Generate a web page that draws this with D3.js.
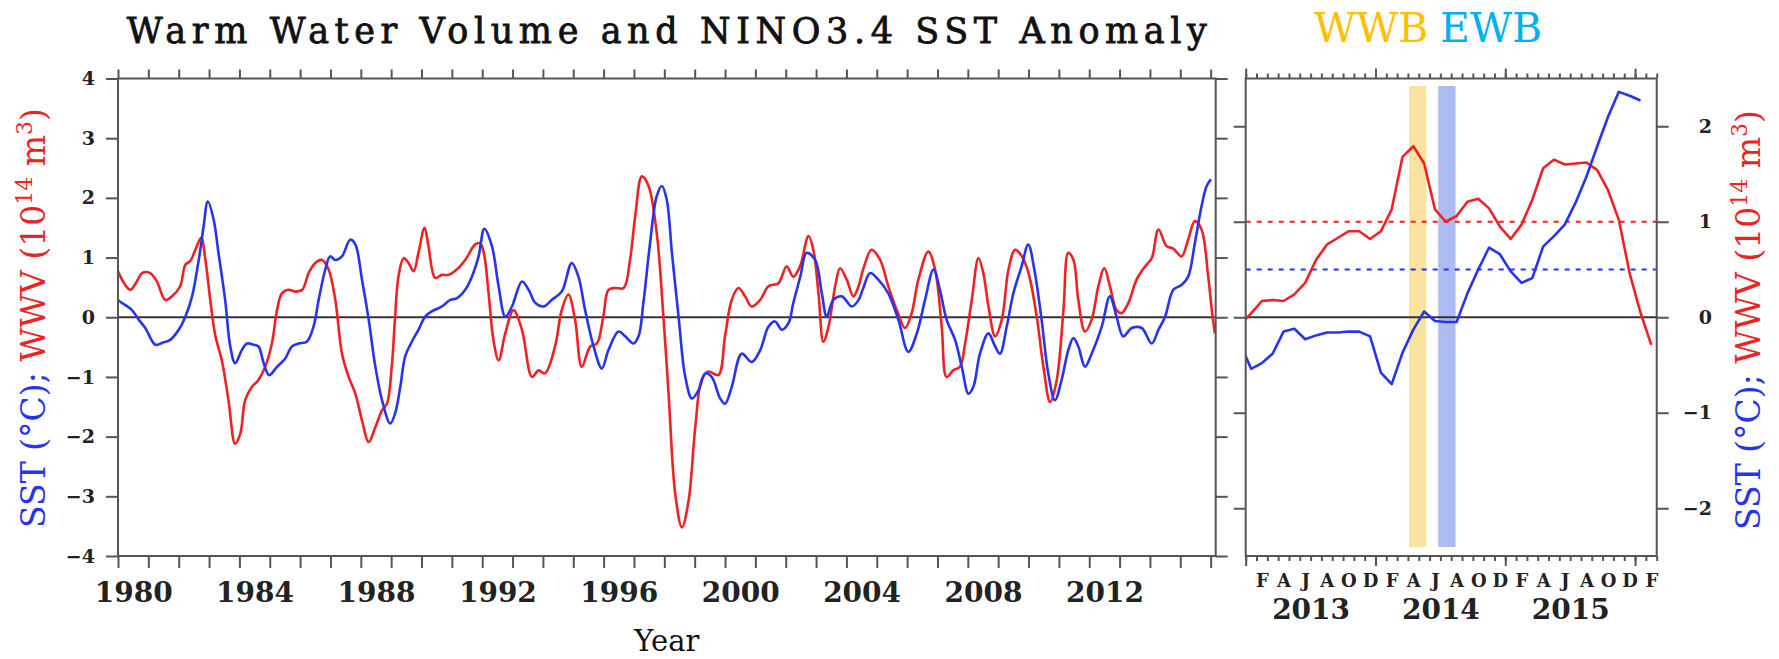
<!DOCTYPE html>
<html>
<head>
<meta charset="utf-8">
<title>Warm Water Volume and NINO3.4 SST Anomaly</title>
<script src="https://cdn.jsdelivr.net/npm/d3@7"></script>
<style>
  body { margin: 0; background: #fff; }
  svg text { font-family: "DejaVu Serif", serif; }
</style>
</head>
<body>
<svg id="chart" width="1779" height="659"></svg>
<script>
// ---------------- data ----------------
// long record, [decimal year, anomaly]
const sstLong = [
  [1980.00,0.29],[1980.13,0.24],[1980.46,0.12],[1980.68,-0.04],[1980.90,-0.18],[1981.23,-0.46],
  [1981.45,-0.43],[1981.72,-0.38],[1982.00,-0.21],[1982.22,0.01],[1982.44,0.35],[1982.66,0.96],
  [1982.82,1.52],[1982.96,1.94],[1983.15,1.64],[1983.31,1.08],[1983.53,0.29],[1983.70,-0.49],
  [1983.86,-0.77],[1984.08,-0.55],[1984.25,-0.44],[1984.47,-0.46],[1984.63,-0.49],[1984.80,-0.77],
  [1984.98,-0.97],[1985.24,-0.83],[1985.51,-0.69],[1985.73,-0.49],[1985.95,-0.44],[1986.22,-0.41],
  [1986.44,-0.16],[1986.61,0.29],[1986.83,0.80],[1986.99,1.02],[1987.16,0.96],[1987.38,1.02],
  [1987.65,1.30],[1987.82,1.22],[1988.04,0.63],[1988.26,-0.04],[1988.48,-0.83],[1988.70,-1.39],
  [1988.97,-1.78],[1989.13,-1.61],[1989.30,-1.17],[1989.46,-0.66],[1989.68,-0.41],[1989.90,-0.21],
  [1990.12,0.01],[1990.34,0.10],[1990.67,0.18],[1990.95,0.29],[1991.17,0.32],[1991.44,0.46],
  [1991.66,0.68],[1991.88,1.02],[1992.07,1.48],[1992.32,1.19],[1992.54,0.52],[1992.76,0.01],
  [1992.98,0.18],[1993.31,0.60],[1993.53,0.46],[1993.75,0.24],[1994.02,0.18],[1994.29,0.29],
  [1994.62,0.43],[1994.95,0.91],[1995.17,0.68],[1995.39,0.12],[1995.67,-0.49],[1995.94,-0.86],
  [1996.16,-0.55],[1996.49,-0.24],[1996.71,-0.32],[1996.98,-0.44],[1997.15,-0.32],[1997.31,0.24],
  [1997.53,1.24],[1997.75,2.03],[1997.92,2.20],[1998.08,1.97],[1998.25,1.08],[1998.47,0.01],
  [1998.69,-1.00],[1998.91,-1.36],[1999.13,-1.22],[1999.35,-0.94],[1999.56,-1.00],[1999.84,-1.36],
  [2000.00,-1.45],[2000.22,-1.17],[2000.55,-0.61],[2000.88,-0.75],[2001.16,-0.55],[2001.43,-0.16],
  [2001.65,-0.07],[2001.87,-0.21],[2002.09,-0.10],[2002.25,0.24],[2002.48,0.68],[2002.69,1.08],
  [2002.97,0.96],[2003.19,0.40],[2003.35,0.01],[2003.57,0.29],[2003.85,0.35],[2004.18,0.18],
  [2004.40,0.29],[2004.55,0.48],[2004.78,0.74],[2005.05,0.63],[2005.38,0.40],[2005.71,-0.04],
  [2006.04,-0.58],[2006.32,-0.27],[2006.59,0.29],[2006.87,0.80],[2007.08,0.46],[2007.30,-0.04],
  [2007.58,-0.38],[2007.80,-0.83],[2008.02,-1.28],[2008.18,-1.17],[2008.40,-0.61],[2008.68,-0.27],
  [2008.90,-0.49],[2009.06,-0.61],[2009.28,-0.16],[2009.50,0.40],[2009.77,0.85],[2009.99,1.22],
  [2010.21,0.74],[2010.43,-0.04],[2010.65,-0.94],[2010.87,-1.39],[2011.09,-1.05],[2011.31,-0.55],
  [2011.48,-0.35],[2011.64,-0.49],[2011.86,-0.83],[2012.08,-0.61],[2012.41,-0.16],[2012.68,0.35],
  [2012.90,0.01],[2013.12,-0.32],[2013.40,-0.18],[2013.73,-0.18],[2014.06,-0.44],[2014.28,-0.21],
  [2014.50,0.01],[2014.77,0.46],[2015.04,0.54],[2015.26,0.68],[2015.48,1.24],[2015.70,1.86],
  [2015.87,2.20],[2016.01,2.31]
];
const wwvLong = [
  [1980.00,0.77],[1980.24,0.54],[1980.41,0.46],[1980.62,0.60],[1980.79,0.74],[1981.06,0.74],
  [1981.28,0.60],[1981.56,0.29],[1981.78,0.35],[1982.05,0.52],[1982.22,0.88],[1982.38,0.94],
  [1982.55,1.13],[1982.74,1.33],[1982.88,0.96],[1983.04,0.29],[1983.21,-0.32],[1983.42,-0.72],
  [1983.64,-1.39],[1983.86,-2.12],[1984.03,-1.95],[1984.19,-1.39],[1984.41,-1.17],[1984.63,-1.05],
  [1984.85,-0.83],[1985.07,-0.44],[1985.24,0.12],[1985.40,0.40],[1985.62,0.46],[1985.84,0.43],
  [1986.07,0.46],[1986.28,0.74],[1986.50,0.91],[1986.72,0.96],[1986.94,0.80],[1987.16,0.29],
  [1987.38,-0.61],[1987.60,-1.00],[1987.82,-1.28],[1988.04,-1.73],[1988.26,-2.09],[1988.48,-1.84],
  [1988.70,-1.56],[1988.86,-1.45],[1989.02,-0.83],[1989.13,0.01],[1989.24,0.68],[1989.41,0.99],
  [1989.57,0.91],[1989.74,0.77],[1989.90,1.08],[1990.10,1.50],[1990.23,1.19],[1990.45,0.66],
  [1990.67,0.71],[1990.89,0.71],[1991.16,0.80],[1991.44,0.96],[1991.77,1.22],[1991.93,1.24],
  [1992.06,1.06],[1992.21,0.40],[1992.37,-0.38],[1992.54,-0.72],[1992.76,-0.27],[1993.03,0.12],
  [1993.31,-0.21],[1993.64,-1.00],[1993.86,-0.89],[1994.07,-0.94],[1994.40,-0.49],[1994.62,0.12],
  [1994.84,0.38],[1995.06,-0.04],[1995.28,-0.83],[1995.56,-0.49],[1995.78,-0.44],[1995.99,0.01],
  [1996.16,0.46],[1996.38,0.49],[1996.66,0.49],[1996.87,0.96],[1997.04,1.69],[1997.26,2.36],
  [1997.48,2.20],[1997.75,1.41],[1997.97,0.01],[1998.14,-1.28],[1998.36,-2.96],[1998.58,-3.52],
  [1998.80,-3.07],[1999.02,-1.84],[1999.23,-1.05],[1999.45,-0.91],[1999.78,-0.97],[2000.00,-0.32],
  [2000.22,0.29],[2000.44,0.49],[2000.66,0.35],[2000.88,0.18],[2001.16,0.29],[2001.43,0.52],
  [2001.76,0.57],[2002.03,0.85],[2002.25,0.68],[2002.47,0.85],[2002.75,1.36],[2002.91,1.13],
  [2003.08,0.40],[2003.24,-0.41],[2003.41,-0.16],[2003.63,0.52],[2003.79,0.82],[2004.01,0.63],
  [2004.23,0.35],[2004.40,0.52],[2004.55,0.80],[2004.83,1.13],[2005.11,0.96],[2005.38,0.52],
  [2005.66,0.12],[2005.93,-0.18],[2006.15,0.07],[2006.37,0.63],[2006.70,1.10],[2006.92,0.80],
  [2007.14,-0.16],[2007.30,-1.00],[2007.52,-0.89],[2007.74,-0.83],[2007.91,-0.44],[2008.13,0.29],
  [2008.35,0.99],[2008.51,0.74],[2008.68,0.18],[2008.90,-0.32],[2009.12,-0.04],[2009.34,0.80],
  [2009.56,1.13],[2009.78,1.02],[2010.00,0.74],[2010.27,0.01],[2010.49,-0.83],[2010.71,-1.42],
  [2010.93,-1.05],[2011.15,0.12],[2011.31,1.08],[2011.48,0.96],[2011.64,0.29],[2011.86,-0.24],
  [2012.08,-0.04],[2012.30,0.52],[2012.50,0.82],[2012.68,0.52],[2012.90,0.12],[2013.07,0.07],
  [2013.29,0.24],[2013.56,0.63],[2013.84,0.85],[2014.06,0.99],[2014.28,1.47],[2014.55,1.19],
  [2014.77,1.15],[2015.04,1.02],[2015.26,1.30],[2015.48,1.61],[2015.70,1.47],[2015.92,0.68],
  [2016.05,0.07],[2016.14,-0.27]
];

// zoomed record, monthly means, first value is Dec 2012
const sstMonthly = [-0.28,
  -0.54,-0.48,-0.38,-0.15,-0.12,-0.23,-0.19,-0.16,-0.16,-0.15,-0.15,-0.20,   // 2013
  -0.58,-0.70,-0.37,-0.13,0.06,-0.04,-0.05,-0.05,0.25,0.50,0.73,0.66,        // 2014
  0.48,0.36,0.41,0.74,0.85,0.97,1.20,1.47,1.79,2.10,2.36,2.32,               // 2015
  2.27];                                                                    // Jan 2016
const wwvMonthly = [-0.08,
  0.04,0.17,0.18,0.17,0.24,0.36,0.60,0.76,0.83,0.90,0.90,0.82,               // 2013
  0.90,1.13,1.68,1.79,1.61,1.13,1.00,1.06,1.21,1.24,1.14,0.95,               // 2014
  0.82,0.97,1.23,1.56,1.65,1.60,1.61,1.62,1.54,1.33,1.02,0.46,               // 2015
  0.05,-0.29];                                                              // Jan-Feb 2016

const yearLabels = [1980, 1984, 1988, 1992, 1996, 2000, 2004, 2008, 2012];
const zoomYears = [2013, 2014, 2015];
const monthLetters = ["J","F","M","A","M","J","J","A","S","O","N","D"];
const wwvRef = 1.0;   // red dotted line
const sstRef = 0.5;   // blue dotted line
// wind bursts, in months after 1 Jan 2013
const bursts = [
  {name: "WWB", from: 15.1, to: 16.7},
  {name: "EWB", from: 17.8, to: 19.4}
];

// ---------------- layout ----------------
const RED = "#ee2222", BLUE = "#2634ee", AXIS = "#555";
const L = {x0: 118, x1: 1215.7, y0: 78.5, y1: 556};
const R = {x0: 1245.7, x1: 1656.7};

const svg = d3.select("#chart");

const xL = d3.scaleLinear().domain([1980, 2016 + 2/12]).range([L.x0, L.x1]);
const yL = d3.scaleLinear().domain([-4, 4]).range([L.y1, L.y0]);
const xR = d3.scaleLinear().domain([0, 38]).range([R.x0, R.x1]);
const yR = d3.scaleLinear().domain([-2.5, 2.5]).range([L.y1, L.y0]);

function styleAxis(g, size) {
  g.attr("font-family", "DejaVu Serif").attr("font-size", size || 19).attr("font-weight", "bold");
  g.select(".domain").remove();
  g.selectAll("line").attr("stroke", AXIS).attr("stroke-width", 2);
  g.selectAll("text").attr("fill", "#222");
}

// clip paths
const defs = svg.append("defs");
defs.append("clipPath").attr("id", "clipL").append("rect")
  .attr("x", L.x0).attr("y", L.y0).attr("width", L.x1 - L.x0).attr("height", L.y1 - L.y0);
defs.append("clipPath").attr("id", "clipR").append("rect")
  .attr("x", R.x0).attr("y", L.y0).attr("width", R.x1 - R.x0).attr("height", L.y1 - L.y0);

// ---------------- left panel ----------------
svg.append("g").attr("transform", `translate(${L.x0},0)`)
  .call(d3.axisLeft(yL).tickValues(d3.range(-4, 5)).tickSize(12).tickPadding(11).tickFormat(d3.format("d")))
  .call(styleAxis);
svg.append("g").attr("transform", `translate(${L.x1},0)`)
  .call(d3.axisRight(yL).tickValues(d3.range(-4, 5)).tickSize(12).tickFormat(""))
  .call(styleAxis);
svg.append("g").attr("transform", `translate(0,${L.y0})`)
  .call(d3.axisTop(xL).tickValues(d3.range(1980, 2017)).tickSize(9).tickFormat(""))
  .call(styleAxis);
svg.append("g").attr("transform", `translate(0,${L.y1})`)
  .call(d3.axisBottom(xL).tickValues(d3.range(1980, 2017)).tickSize(12).tickFormat(""))
  .call(styleAxis);
svg.append("g").attr("transform", `translate(0,${L.y1})`)
  .call(d3.axisBottom(xL).tickValues(yearLabels.map(d => d + 0.5)).tickSize(0).tickPadding(26)
    .tickFormat(d => Math.floor(d)))
  .call(g => styleAxis(g, 28));

svg.append("line")
  .attr("x1", L.x0).attr("x2", L.x1).attr("y1", yL(0)).attr("y2", yL(0))
  .attr("stroke", "#333").attr("stroke-width", 2);

const lineL = d3.line().x(d => xL(d[0])).y(d => yL(d[1])).curve(d3.curveCatmullRom.alpha(0.5));
const plotL = svg.append("g").attr("clip-path", "url(#clipL)");
plotL.append("path").datum(wwvLong).attr("d", lineL)
  .attr("fill", "none").attr("stroke", RED).attr("stroke-width", 2.6);
plotL.append("path").datum(sstLong).attr("d", lineL)
  .attr("fill", "none").attr("stroke", BLUE).attr("stroke-width", 2.6);

svg.append("rect")
  .attr("x", L.x0).attr("y", L.y0).attr("width", L.x1 - L.x0).attr("height", L.y1 - L.y0)
  .attr("fill", "none").attr("stroke", AXIS).attr("stroke-width", 2);

// ---------------- right panel ----------------
const monthTicks = d3.range(0, 39);
const yearTicks = [0, 12, 24, 36];
svg.append("g").attr("transform", `translate(${R.x0},0)`)
  .call(d3.axisLeft(yR).tickValues([-2, -1, 0, 1, 2]).tickSize(12).tickFormat(""))
  .call(styleAxis);
const rightAxis = svg.append("g").attr("transform", `translate(${R.x1},0)`)
  .call(d3.axisRight(yR).tickValues([-2, -1, 0, 1, 2]).tickSize(12).tickFormat(d3.format("d")))
  .call(styleAxis);
rightAxis.selectAll("text").attr("text-anchor", "end").attr("x", 55.3);

svg.append("g").attr("transform", `translate(0,${L.y0})`)
  .call(d3.axisTop(xR).tickValues(monthTicks).tickSize(5).tickFormat(""))
  .call(styleAxis);
svg.append("g").attr("transform", `translate(0,${L.y0})`)
  .call(d3.axisTop(xR).tickValues(yearTicks).tickSize(10).tickFormat(""))
  .call(styleAxis);
svg.append("g").attr("transform", `translate(0,${L.y1})`)
  .call(d3.axisBottom(xR).tickValues(monthTicks).tickSize(5).tickFormat(""))
  .call(styleAxis);
svg.append("g").attr("transform", `translate(0,${L.y1})`)
  .call(d3.axisBottom(xR).tickValues(yearTicks).tickSize(10).tickFormat(""))
  .call(styleAxis);
svg.append("g").attr("transform", `translate(0,${L.y1})`)
  .call(d3.axisBottom(xR).tickValues(d3.range(1.5, 38, 2)).tickSize(0).tickPadding(18)
    .tickFormat(d => monthLetters[Math.floor(d) % 12]))
  .call(g => styleAxis(g, 18));
svg.append("g").attr("transform", `translate(0,${L.y1})`)
  .call(d3.axisBottom(xR).tickValues(zoomYears.map((y, i) => 6 + 12 * i)).tickSize(0).tickPadding(43)
    .tickFormat((d, i) => zoomYears[i]))
  .call(g => styleAxis(g, 28));

// wind-burst bars
const barColor = {WWB: "#f5c540", EWB: "#5a78e6"};
svg.append("g").selectAll("rect").data(bursts).join("rect")
  .attr("x", d => xR(d.from)).attr("width", d => xR(d.to) - xR(d.from))
  .attr("y", 86).attr("height", 461)
  .attr("fill", d => barColor[d.name]).attr("opacity", 0.5);

svg.append("line")
  .attr("x1", R.x0).attr("x2", R.x1).attr("y1", yR(0)).attr("y2", yR(0))
  .attr("stroke", "#333").attr("stroke-width", 2);
svg.append("line")
  .attr("x1", R.x0).attr("x2", R.x1).attr("y1", yR(wwvRef)).attr("y2", yR(wwvRef))
  .attr("stroke", RED).attr("stroke-width", 2.2).attr("stroke-dasharray", "5,6");
svg.append("line")
  .attr("x1", R.x0).attr("x2", R.x1).attr("y1", yR(sstRef)).attr("y2", yR(sstRef))
  .attr("stroke", BLUE).attr("stroke-width", 2.2).attr("stroke-dasharray", "5,6");

// monthly values sit at mid-month, index 0 = Dec 2012
const lineR = d3.line().x((d, i) => xR(i - 0.5)).y(d => yR(d));
const plotR = svg.append("g").attr("clip-path", "url(#clipR)");
plotR.append("path").datum(wwvMonthly).attr("d", lineR)
  .attr("fill", "none").attr("stroke", RED).attr("stroke-width", 2.6).attr("stroke-linejoin", "round");
plotR.append("path").datum(sstMonthly).attr("d", lineR)
  .attr("fill", "none").attr("stroke", BLUE).attr("stroke-width", 2.6).attr("stroke-linejoin", "round");

svg.append("rect")
  .attr("x", R.x0).attr("y", L.y0).attr("width", R.x1 - R.x0).attr("height", L.y1 - L.y0)
  .attr("fill", "none").attr("stroke", AXIS).attr("stroke-width", 2);

// ---------------- titles ----------------
svg.append("text")
  .attr("x", (L.x0 + L.x1) / 2).attr("y", 43)
  .attr("text-anchor", "middle").attr("font-size", 35)
  .attr("textLength", 1080).attr("lengthAdjust", "spacing")
  .attr("fill", "#111").attr("stroke", "#111").attr("stroke-width", 0.8)
  .text("Warm Water Volume and NINO3.4 SST Anomaly");

svg.append("text")
  .attr("x", (L.x0 + L.x1) / 2).attr("y", 651)
  .attr("text-anchor", "middle").attr("font-size", 29).attr("fill", "#111")
  .text("Year");

function axisTitle(x, y) {
  const t = svg.append("text")
    .attr("transform", `translate(${x},${y}) rotate(-90)`)
    .attr("text-anchor", "middle").attr("font-size", 33);
  t.append("tspan").attr("fill", BLUE).text("SST (°C);");
  t.append("tspan").attr("fill", RED).text(" WWV (10");
  t.append("tspan").attr("fill", RED).attr("font-size", 22).attr("dy", -13).text("14");
  t.append("tspan").attr("fill", RED).attr("dy", 13).text(" m");
  t.append("tspan").attr("fill", RED).attr("font-size", 22).attr("dy", -13).text("3");
  t.append("tspan").attr("fill", RED).attr("dy", 13).text(")");
}
axisTitle(45, 318);
axisTitle(1760, 320);

// burst labels
const labelColor = {WWB: "#ffc000", EWB: "#00b0f0"};
svg.append("g").selectAll("text").data(bursts).join("text")
  .attr("x", (d, i) => [1314, 1440][i]).attr("y", 42)
  .attr("font-family", "Open Sans").attr("font-size", 41)
  .attr("fill", d => labelColor[d.name])
  .text(d => d.name);
</script>
</body>
</html>
